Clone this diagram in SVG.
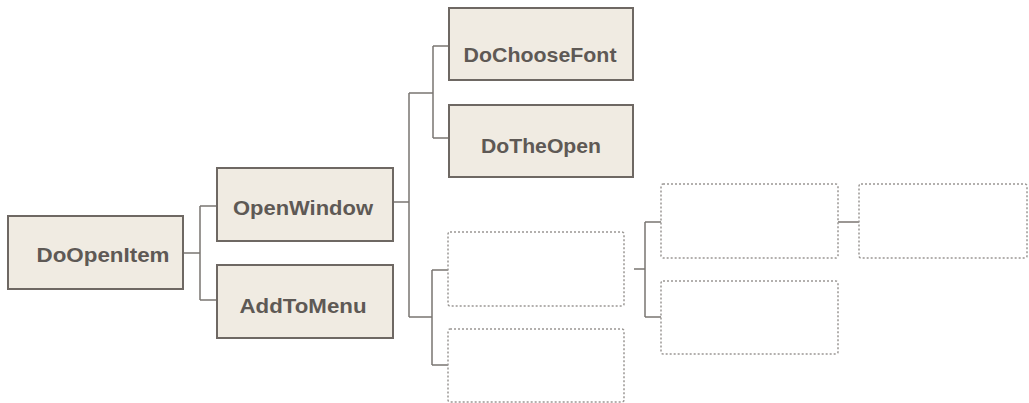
<svg xmlns="http://www.w3.org/2000/svg" width="1029" height="403" viewBox="0 0 1029 403">
<style>
.box{fill:#f0ebe2;stroke:#6e6863;stroke-width:2}
.dash{fill:#ffffff;stroke:#9a9794;stroke-width:1.5;stroke-dasharray:2 2}
.lbl{font-family:"Liberation Sans",Arial,sans-serif;font-weight:bold;font-size:21px;fill:#5e5955;text-anchor:middle}
.conn{fill:none;stroke:#7a7571;stroke-width:1.5}
</style>
<rect width="1029" height="403" fill="#ffffff"/>
<g id="connectors">
<path class="conn" d="M183 253H200M200 206V300M200 206H217M200 300H217"/>
<path class="conn" d="M393 202H409M409 93V317M409 93H433M433 46V138M433 46H449M433 138H449"/>
<path class="conn" d="M409 317H432M432 270V365M432 270H448M432 365H448"/>
<path class="conn" d="M634 269H645M645 222V317M645 222H661M645 317H661"/>
<path class="conn" d="M838 222H859"/>
</g>
<g id="DoOpenItem"><rect class="box" x="8" y="216" width="175" height="73"/><text class="lbl" x="103" y="262" textLength="133" lengthAdjust="spacingAndGlyphs">DoOpenItem</text></g>
<g id="OpenWindow"><rect class="box" x="217" y="168" width="176" height="73"/><text class="lbl" x="303" y="215" textLength="140" lengthAdjust="spacingAndGlyphs">OpenWindow</text></g>
<g id="AddToMenu"><rect class="box" x="217" y="265" width="176" height="73"/><text class="lbl" x="303" y="313" textLength="127" lengthAdjust="spacingAndGlyphs">AddToMenu</text></g>
<g id="DoChooseFont"><rect class="box" x="449" y="8" width="184" height="72"/><text class="lbl" x="540" y="62" textLength="153" lengthAdjust="spacingAndGlyphs">DoChooseFont</text></g>
<g id="DoTheOpen"><rect class="box" x="449" y="105" width="184" height="72"/><text class="lbl" x="541" y="153" textLength="120" lengthAdjust="spacingAndGlyphs">DoTheOpen</text></g>
<g id="empty1"><rect class="dash" x="448" y="232" width="176" height="74" rx="2"/></g>
<g id="empty2"><rect class="dash" x="448" y="329" width="176" height="73" rx="2"/></g>
<g id="empty3"><rect class="dash" x="661" y="184" width="177" height="74" rx="2"/></g>
<g id="empty4"><rect class="dash" x="661" y="281" width="177" height="73" rx="2"/></g>
<g id="empty5"><rect class="dash" x="859" y="184" width="168" height="74" rx="2"/></g>
</svg>
